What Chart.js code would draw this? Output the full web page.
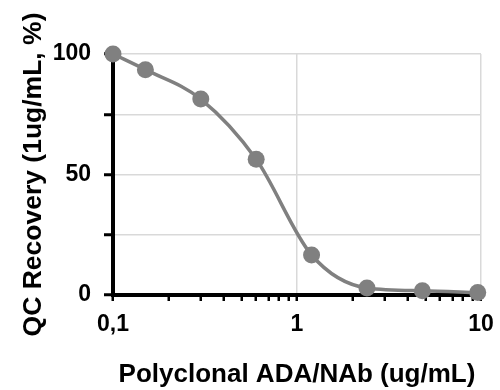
<!DOCTYPE html>
<html>
<head>
<meta charset="utf-8">
<script src="https://cdn.jsdelivr.net/npm/chart.js@4.4.1/dist/chart.umd.min.js"></script>
<style>
  html, body { margin: 0; padding: 0; background: #fff; }
  #wrap { width: 500px; height: 390px; }
</style>
</head>
<body>
<div id="wrap"><canvas id="qcChart" width="500" height="390"></canvas></div>
<script>
// concentrations (ug/mL) et recovery (%)
const concentrations = [0.1, 0.15, 0.3, 0.6, 1.2, 2.4, 4.8, 9.6];
const recovery = [100, 93.5, 81.3, 56.3, 16.6, 2.9, 1.8, 1.0];

// graduations de l'axe log
const xTickValues = [0.1, 0.2, 0.3, 0.4, 0.5, 0.6, 0.7, 0.8, 0.9,
                     1, 2, 3, 4, 5, 6, 7, 8, 9, 10];
const xTickLabels = { 0.1: '0,1', 1: '1', 10: '10' };
const yLabelled = [0, 50, 100];

const grey = '#808080';
const gridGrey = '#d9d9d9';

Chart.defaults.font.family = "'Liberation Sans', Arial, sans-serif";
Chart.defaults.font.weight = 'bold';
Chart.defaults.color = '#000';

const ctx = document.getElementById('qcChart').getContext('2d');

new Chart(ctx, {
    type: 'line',
    data: {
        datasets: [{
            data: concentrations.map((x, i) => ({ x: x, y: recovery[i] })),
            borderColor: grey,
            borderWidth: 3.5,
            pointBackgroundColor: grey,
            pointBorderWidth: 0,
            pointRadius: 8.5,
            pointHoverRadius: 8.5,
            cubicInterpolationMode: 'monotone',
            clip: false
        }]
    },
    options: {
        responsive: false,
        animation: false,
        layout: { padding: { left: 0, right: 19, top: 54, bottom: 0 } },
        plugins: {
            legend: { display: false },
            tooltip: { enabled: false }
        },
        scales: {
            x: {
                type: 'logarithmic',
                min: 0.1,
                max: 10,
                afterBuildTicks: (scale) => {
                    scale.ticks = xTickValues.map(v => ({ value: v }));
                },
                afterFit: (scale) => {
                    scale.height = 95;
                    scale.paddingLeft = 0;
                    scale.paddingRight = 0;
                },
                ticks: {
                    autoSkip: false,
                    maxRotation: 0,
                    padding: 10,
                    font: { size: 23, weight: 'bold' },
                    callback: (value) => xTickLabels[value] !== undefined ? xTickLabels[value] : ''
                },
                grid: {
                    color: (c) => (c.tick && (c.tick.value === 1 || c.tick.value === 10)) ? gridGrey : 'rgba(0,0,0,0)',
                    lineWidth: 1.5,
                    tickColor: '#000',
                    tickLength: 6,
                    tickWidth: 2.5
                },
                border: { color: '#000', width: 4 },
                title: {
                    display: true,
                    text: 'Polyclonal ADA/NAb (ug/mL)',
                    font: { size: 26, weight: 'bold' },
                    padding: { top: 0, bottom: 0 }
                }
            },
            y: {
                min: 0,
                max: 100,
                afterFit: (scale) => { scale.width = 113; },
                ticks: {
                    stepSize: 25,
                    padding: 13,
                    font: { size: 23, weight: 'bold' },
                    callback: (value) => yLabelled.includes(value) ? value : ''
                },
                grid: {
                    color: gridGrey,
                    lineWidth: 1.5,
                    tickColor: '#000',
                    tickLength: 9,
                    tickWidth: 3
                },
                border: { color: '#000', width: 4 },
                title: {
                    display: true,
                    text: 'QC Recovery (1ug/mL, %)',
                    font: { size: 26.5, weight: 'bold' },
                    padding: { top: 18, bottom: 0 }
                }
            }
        }
    }
});
</script>
</body>
</html>
